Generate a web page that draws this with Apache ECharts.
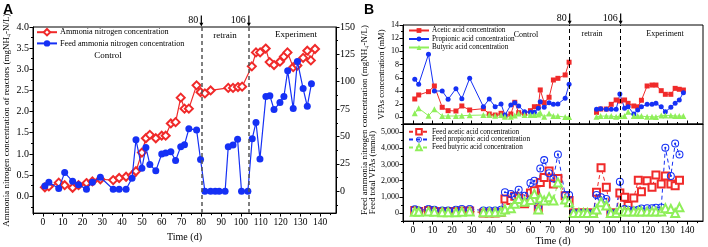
<!DOCTYPE html>
<html>
<head>
<meta charset="utf-8">
<script src="https://cdn.jsdelivr.net/npm/echarts@6/dist/echarts.min.js"></script>
<style>
html, body { margin: 0; padding: 0; background: #fff; }
#main { width: 708px; height: 247px; }
</style>
</head>
<body>
<div id="main"></div>
<script>
// ---- Panel A data ----
const ammoniaDays = [1, 3, 8, 11, 15, 18, 22, 25, 29, 35.5, 38.5, 42, 45, 47, 50, 52, 54, 57, 60, 62,
    64.6, 67, 69.6, 71.5, 73.7, 77.6, 79.6, 81.8, 84.7, 93.6, 96, 98.5, 100.6,
    105.5, 107.6, 109.7, 112.5, 114.5, 116.7, 119.7, 121.7, 123.5, 126.4, 128.5, 131.4, 133.5, 135.3, 137.4];
const ammoniaConc = [0.21, 0.23, 0.32, 0.26, 0.20, 0.26, 0.31, 0.35, 0.40, 0.38, 0.43, 0.46, 0.49, 0.59, 1.03, 1.37, 1.45, 1.37, 1.43, 1.43,
    1.72, 1.75, 2.33, 2.07, 2.07, 2.62, 2.46, 2.43, 2.50, 2.56, 2.56, 2.58, 2.59,
    3.07, 3.40, 3.40, 3.49, 3.17, 3.10, 3.18, 3.30, 3.40, 3.05, 3.09, 3.27, 3.44, 3.21, 3.48];

const feedNDays = [1, 3, 8, 11, 15, 18, 22, 25, 29, 35.5, 38.5, 42, 45, 47, 50, 52, 54, 57, 60, 62,
    64.6, 67, 69.6, 71.5, 73.7, 77.6, 79.6, 81.8, 84.7, 87, 89, 92, 93.6, 96, 98.3, 100.3, 103.5,
    105.7, 107.6, 109.6, 112.6, 114.6, 116.7, 119.7, 121.7, 123.6, 126.4, 128.5, 131.4, 133.5, 135.6];
const feedNConc = [4.7, 8.2, 2.4, 17, 9, 6, 1.8, 8.2, 12.7, 1.8, 1.8, 1.8, 11.8, 47, 21, 40, 24.5, 18.6, 34, 35,
    36, 28, 40.7, 42.5, 57, 56, 29, 0, 0, 0, 0, 0, 40.7, 42.2, 47.5, 0, 0,
    48, 62.8, 29.5, 86.5, 87.3, 74.6, 81, 86.5, 110, 75.5, 118.5, 93.8, 77.6, 98.2];

// ---- Panel B data (reactor VFAs, mM) ----
const vfaDaysControl = [1, 3, 8, 11, 15, 18, 22, 25, 29, 36, 39, 42, 45, 47, 50, 52, 54, 57, 60, 62, 64, 65, 67, 69.5, 71.7, 74, 77.7, 79.7];
const aceticControl = [2.79, 3.40, 3.90, 4.76, 1.53, 1.02, 0.97, 1.73, 1.12, 1.32, 0.52, 0.36, 0.62, 0.21, 0.52, 2.29, 0.71, 0.62, 1.02, 1.62, 1.62, 4.16, 2.23, 3.05, 5.67, 5.92, 6.43, 8.36];
const propionicControl = [5.77, 5.02, 9.56, 4.0, 4.0, 2.74, 4.35, 2.84, 5.92, 1.62, 2.79, 1.62, 2.03, 0.36, 1.88, 2.23, 1.73, 0.86, 0.77, 0.77, 1.38, 2.38, 1.53, 2.23, 1.98, 2.03, 2.9, 5.02];
const butyricControl = [0.62, 1.38, 0.26, 1.23, 0.21, 0.21, 0.21, 0.26, 0.31, 0.36, 0.36, 0.26, 0.36, 0.1, 0.1, 0.3, 0.6, 0.36, 0.36, 0.36, 0.45, 0.7, 0.1, 0.6, 0.2, 0.2, 0.05, 0.05];

const vfaDaysLater = [93.7, 95.8, 98.7, 101.2, 103.7, 105.6, 108, 109.8, 112.7, 114.7, 116.6, 119.5, 122, 124, 126.7, 128.8, 131.6, 133.8, 135.9, 138];
const aceticLater = [0.77, 1.27, 1.27, 1.98, 2.64, 2.48, 2.64, 2.13, 1.73, 1.6, 2.6, 4.76, 4.9, 4.9, 4.05, 3.5, 3.5, 4.4, 4.26, 4.15];
const propionicLater = [1.22, 1.32, 1.22, 1.22, 1.22, 3.55, 1.38, 1.62, 0.52, 1.12, 1.62, 1.98, 2.0, 2.13, 1.6, 0.86, 1.53, 2.13, 2.64, 3.75];
const butyricLater = [0.1, 0.2, 0.2, 0.2, 0.1, 0.2, 0.2, 0.86, 0.2, 0.2, 0.2, 0.1, 0.1, 0.05, 0.3, 0.3, 0.3, 0.2, 0.2, 0.2];

// ---- Panel B data (feed VFAs, mmol) ----
const feedDays = [1, 3, 8, 11, 15, 18, 22, 25, 29, 36, 39, 42, 45,
    47, 50, 52, 54, 57, 60, 62, 64, 65, 67, 69.5, 71.7, 74, 77.7, 79.7,
    82, 84.7, 87, 89, 92, 93.7, 96, 98.7, 101, 103.7,
    105.6, 108, 109.8, 112.7, 115, 116.6, 119.5, 122, 124, 126.7, 128.8, 131.6, 133.8, 136];
const feedAcetic = [150, 100, 150, 100, 80, 100, 100, 120, 130, 0, 0, 0, 50,
    870, 770, 1040, 915, 570, 1240, 1380, 250, 1890, 2200, 2600, 1790, 2140, 1070, 770,
    0, 0, 0, 0, 0, 1280, 2800, 1590, 0, 0,
    1240, 980, 460, 930, 2030, 1320, 1990, 1590, 2350, 1790, 2290, 1790, 1690, 2030];
const feedPropionic = [230, 150, 250, 200, 150, 150, 200, 250, 250, 150, 150, 150, 200,
    1280, 1180, 1040, 1440, 1070, 1850, 1990, 430, 2750, 3270, 2460, 2140, 3620, 1120, 1120,
    0, 0, 0, 0, 0, 1120, 980, 870, 0, 0,
    1930, 250, 200, 150, 200, 280, 300, 300, 330, 340, 4030, 2290, 4290, 3620];
const feedButyric = [80, 80, 100, 80, 50, 50, 50, 80, 100, 50, 50, 50, 80,
    220, 300, 570, 870, 700, 810, 1180, 220, 915, 770, 980, 770, 1890, 830, 670,
    0, 0, 0, 0, 0, 220, 670, 460, 0, 0,
    220, 100, 100, 100, 100, 100, 100, 100, 100, 100, 300, 250, 0, 350];

// ---- tick labels ----
const timeTicks = [0, 10, 20, 30, 40, 50, 60, 70, 80, 90, 100, 110, 120, 130, 140];
const ammoniaTicks = [0, 0.5, 1.0, 1.5, 2.0, 2.5, 3.0, 3.5, 4.0];
const feedNTicks = [0, 25, 50, 75, 100, 125, 150];
const vfaTicks = [0, 2, 4, 6, 8, 10, 12, 14];
const feedVfaTicks = [0, 1000, 2000, 3000, 4000, 5000];

// phase boundaries (day)
const phaseLinesA = [80, 104];
const phaseLinesB = [80, 106];
const phaseLabels = ['80', '106'];

const SERIF = '"Liberation Serif", "Times New Roman", serif';
const RED = '#f02a2a';
const BLUE = '#1530f5';
const GREEN = '#8fef5a';
const arrowPath = 'path://M1.4,0 L2.6,0 L2.6,8 L4,8 L2,12 L0,8 L1.4,8 Z';
const dotCircle = 'path://M10,0 A10,10 0 1,1 10,20 A10,10 0 1,1 10,0 Z M10,2.6 A7.4,7.4 0 1,0 10,17.4 A7.4,7.4 0 1,0 10,2.6 Z M10,7.3 A2.7,2.7 0 1,1 10,12.7 A2.7,2.7 0 1,1 10,7.3 Z';

const zip = (xs, ys) => xs.map((x, i) => [x, ys[i]]);
const gapped = (xa, ya, xb, yb) => zip(xa, ya).concat([[87, '-']], zip(xb, yb));

// minor ticks halfway between major ticks, kept inside [min, max]
function minorTicks(major, min, max) {
    const step = major[1] - major[0];
    const out = [];
    for (let v = major[0] - step / 2; v <= max; v += step) {
        if (v >= min && v <= max) out.push(+v.toFixed(4));
    }
    return out;
}

function mainAxis(type, extra) {
    const ax = {
        type: 'value',
        min: extra.min,
        max: extra.max,
        gridIndex: extra.grid,
        position: extra.position,
        splitLine: { show: false },
        axisLine: { show: true, onZero: false, lineStyle: { color: '#000', width: 1 } },
        axisTick: { show: true, inside: !!extra.inside, length: 3.5, customValues: extra.ticks, lineStyle: { color: '#000' } },
        axisLabel: {
            show: !!extra.labels,
            customValues: extra.ticks,
            color: '#000',
            fontFamily: SERIF,
            fontSize: extra.fontSize || 10,
            margin: 4,
            formatter: extra.formatter
        }
    };
    if (extra.name) {
        ax.name = extra.name;
        ax.nameLocation = 'middle';
        ax.nameGap = extra.nameGap;
        ax.nameRotate = type === 'y' ? 90 : 0;
        ax.nameTextStyle = { color: '#000', fontFamily: SERIF, fontSize: extra.nameSize || 10 };
    }
    return ax;
}

function minorAxis(grid, position, min, max, major, inside) {
    return {
        type: 'value', gridIndex: grid, position: position, min: min, max: max,
        splitLine: { show: false },
        axisLine: { show: false, onZero: false },
        axisLabel: { show: false },
        axisTick: { show: true, inside: !!inside, length: 2, customValues: minorTicks(major, min, max), lineStyle: { color: '#000' } }
    };
}

const xAxes = [
    // grid 0: panel A
    mainAxis('x', { grid: 0, min: -5, max: 148, position: 'bottom', ticks: timeTicks, labels: true, name: 'Time (d)', nameGap: 13, fontSize: 9.5 }),
    // grid 1: panel B upper
    mainAxis('x', { grid: 1, min: -5, max: 148, position: 'bottom', ticks: timeTicks, labels: false, inside: true }),
    // grid 2: panel B lower
    mainAxis('x', { grid: 2, min: -5, max: 148, position: 'bottom', ticks: timeTicks, labels: true, name: 'Time (d)', nameGap: 13, fontSize: 9.5 }),
    minorAxis(0, 'bottom', -5, 148, timeTicks),
    minorAxis(1, 'bottom', -5, 148, timeTicks, true),
    minorAxis(2, 'bottom', -5, 148, timeTicks)
];

const yAxes = [
    mainAxis('y', { grid: 0, min: -0.4, max: 4.0, position: 'left', ticks: ammoniaTicks, labels: true, fontSize: 10,
        formatter: v => v.toFixed(1),
        name: 'Ammonia nitrogen concentration of reactors (mgNH\u2084-N/L)', nameGap: 22, nameSize: 9 }),
    mainAxis('y', { grid: 0, min: -20, max: 150, position: 'right', ticks: feedNTicks, labels: true, fontSize: 10,
        name: 'Feed ammonia nitrogen concentration (mgNH\u2084-N/L)', nameGap: 24, nameSize: 9 }),
    mainAxis('y', { grid: 1, min: -1, max: 14, position: 'left', ticks: vfaTicks, labels: true, fontSize: 8,
        name: 'VFAs concentration (mM)', nameGap: 17, nameSize: 8.5 }),
    mainAxis('y', { grid: 2, min: -500, max: 5500, position: 'left', ticks: feedVfaTicks, labels: true, fontSize: 8,
        name: 'Feed total VFAs (mmol)', nameGap: 25, nameSize: 8.5 }),
    minorAxis(0, 'left', -0.4, 4.0, ammoniaTicks),
    minorAxis(0, 'right', -20, 150, feedNTicks),
    minorAxis(1, 'left', -1, 14, vfaTicks),
    minorAxis(2, 'left', -500, 5500, feedVfaTicks)
];

function phaseMarks(lines, yTop, color, width, withArrows) {
    const extra = {
        markLine: {
            silent: true,
            symbol: 'none',
            label: { show: false },
            lineStyle: { type: [4, 3], color: color, width: width },
            data: lines.map(d => ({ xAxis: d }))
        }
    };
    if (withArrows) {
        extra.markPoint = {
            silent: true,
            symbol: arrowPath,
            symbolSize: [4, 11],
            symbolOffset: [0, -6],
            itemStyle: { color: '#000' },
            label: { show: true, position: 'left', distance: 1, color: '#000', fontFamily: SERIF, fontSize: 10, offset: [0, -1] },
            data: lines.map((d, i) => ({ coord: [d, yTop], value: phaseLabels[i] }))
        };
    }
    return extra;
}

const series = [
    Object.assign({
        name: 'Ammonia nitrogen concentration',
        type: 'line', xAxisIndex: 0, yAxisIndex: 0,
        data: zip(ammoniaDays, ammoniaConc),
        symbol: 'emptyDiamond', symbolSize: 8,
        lineStyle: { color: RED, width: 1.2 },
        itemStyle: { color: RED, borderWidth: 1.2 },
        z: 3
    }, phaseMarks(phaseLinesA, 4.0, '#555', 1.5, true)),
    {
        name: 'Feed ammonia nitrogen concentration',
        type: 'line', xAxisIndex: 0, yAxisIndex: 1,
        data: zip(feedNDays, feedNConc),
        symbol: 'circle', symbolSize: 7,
        lineStyle: { color: BLUE, width: 1.2 },
        itemStyle: { color: BLUE },
        z: 4
    },
    Object.assign({
        name: 'Acetic acid concentration',
        type: 'line', xAxisIndex: 1, yAxisIndex: 2,
        data: gapped(vfaDaysControl, aceticControl, vfaDaysLater, aceticLater),
        symbol: 'rect', symbolSize: 5,
        lineStyle: { color: RED, width: 1 },
        itemStyle: { color: RED }
    }, phaseMarks(phaseLinesB, 14, '#000', 1, true)),
    {
        name: 'Propionic acid concentration',
        type: 'line', xAxisIndex: 1, yAxisIndex: 2,
        data: gapped(vfaDaysControl, propionicControl, vfaDaysLater, propionicLater),
        symbol: 'circle', symbolSize: 5,
        lineStyle: { color: BLUE, width: 1 },
        itemStyle: { color: BLUE }
    },
    {
        name: 'Butyric acid concentration',
        type: 'line', xAxisIndex: 1, yAxisIndex: 2,
        data: gapped(vfaDaysControl, butyricControl, vfaDaysLater, butyricLater),
        symbol: 'triangle', symbolSize: 6,
        lineStyle: { color: GREEN, width: 1 },
        itemStyle: { color: GREEN }
    },
    Object.assign({
        name: 'Feed acetic acid concentration',
        type: 'line', xAxisIndex: 2, yAxisIndex: 3,
        data: zip(feedDays, feedAcetic),
        symbol: 'emptyRect', symbolSize: 7,
        lineStyle: { color: RED, width: 1, type: [4, 3] },
        itemStyle: { color: RED, borderWidth: 1 }
    }, phaseMarks(phaseLinesB, 5500, '#000', 1, false)),
    {
        name: 'Feed propionic acid concentration',
        type: 'line', xAxisIndex: 2, yAxisIndex: 3,
        data: zip(feedDays, feedPropionic),
        symbol: dotCircle, symbolSize: 8,
        lineStyle: { color: BLUE, width: 1, type: [4, 3] },
        itemStyle: { color: BLUE }
    },
    {
        name: 'Feed butyric acid concentration',
        type: 'line', xAxisIndex: 2, yAxisIndex: 3,
        data: zip(feedDays, feedButyric),
        symbol: 'emptyTriangle', symbolSize: 8,
        lineStyle: { color: GREEN, width: 1, type: [4, 3] },
        itemStyle: { color: GREEN, borderWidth: 1 }
    }
];

function legendBox(left, top, names, size, gap, iconH) {
    return {
        left: left, top: top, orient: 'vertical',
        itemWidth: 20, itemHeight: iconH, itemGap: gap,
        padding: 0,
        selectedMode: false,
        textStyle: { color: '#000', fontFamily: SERIF, fontSize: size, padding: [0, 0, 0, -2] },
        data: names
    };
}

function label(x, y, text, size, font) {
    return {
        type: 'text', x: x, y: y, silent: true,
        style: { text: text, fill: '#000', font: font || (size + 'px ' + SERIF), textAlign: 'center', textVerticalAlign: 'middle' }
    };
}

const chart = echarts.init(document.getElementById('main'));
chart.setOption({
    animation: false,
    backgroundColor: '#fff',
    grid: [
        { left: 33, top: 27, width: 303, height: 192, show: true, borderColor: '#000', borderWidth: 1 },
        { left: 403, top: 25, width: 300, height: 99, show: true, borderColor: '#000', borderWidth: 1 },
        { left: 403, top: 124, width: 300, height: 99, show: true, borderColor: '#000', borderWidth: 1 }
    ],
    xAxis: xAxes,
    yAxis: yAxes,
    legend: [
        legendBox(36, 28, ['Ammonia nitrogen concentration', 'Feed ammonia nitrogen concentration'], 8.2, 3, 8),
        legendBox(408, 27, ['Acetic acid concentration', 'Propionic acid concentration', 'Butyric acid concentration'], 7.2, 1.5, 6),
        legendBox(408, 128, ['Feed acetic acid concentration', 'Feed propionic acid concentration', 'Feed butyric acid concentration'], 7.2, 0.5, 7)
    ],
    graphic: [
        label(8, 10, 'A', 14, 'bold 14px "Liberation Sans", Arial, sans-serif'),
        label(369, 10, 'B', 14, 'bold 14px "Liberation Sans", Arial, sans-serif'),
        label(108, 56, 'Control', 9),
        label(225, 36, 'retrain', 9),
        label(296, 35, 'Experiment', 9),
        label(526, 35, 'Control', 8),
        label(592, 34, 'retrain', 8),
        label(665, 34, 'Experiment', 8)
    ],
    series: series
});
</script>
</body>
</html>
